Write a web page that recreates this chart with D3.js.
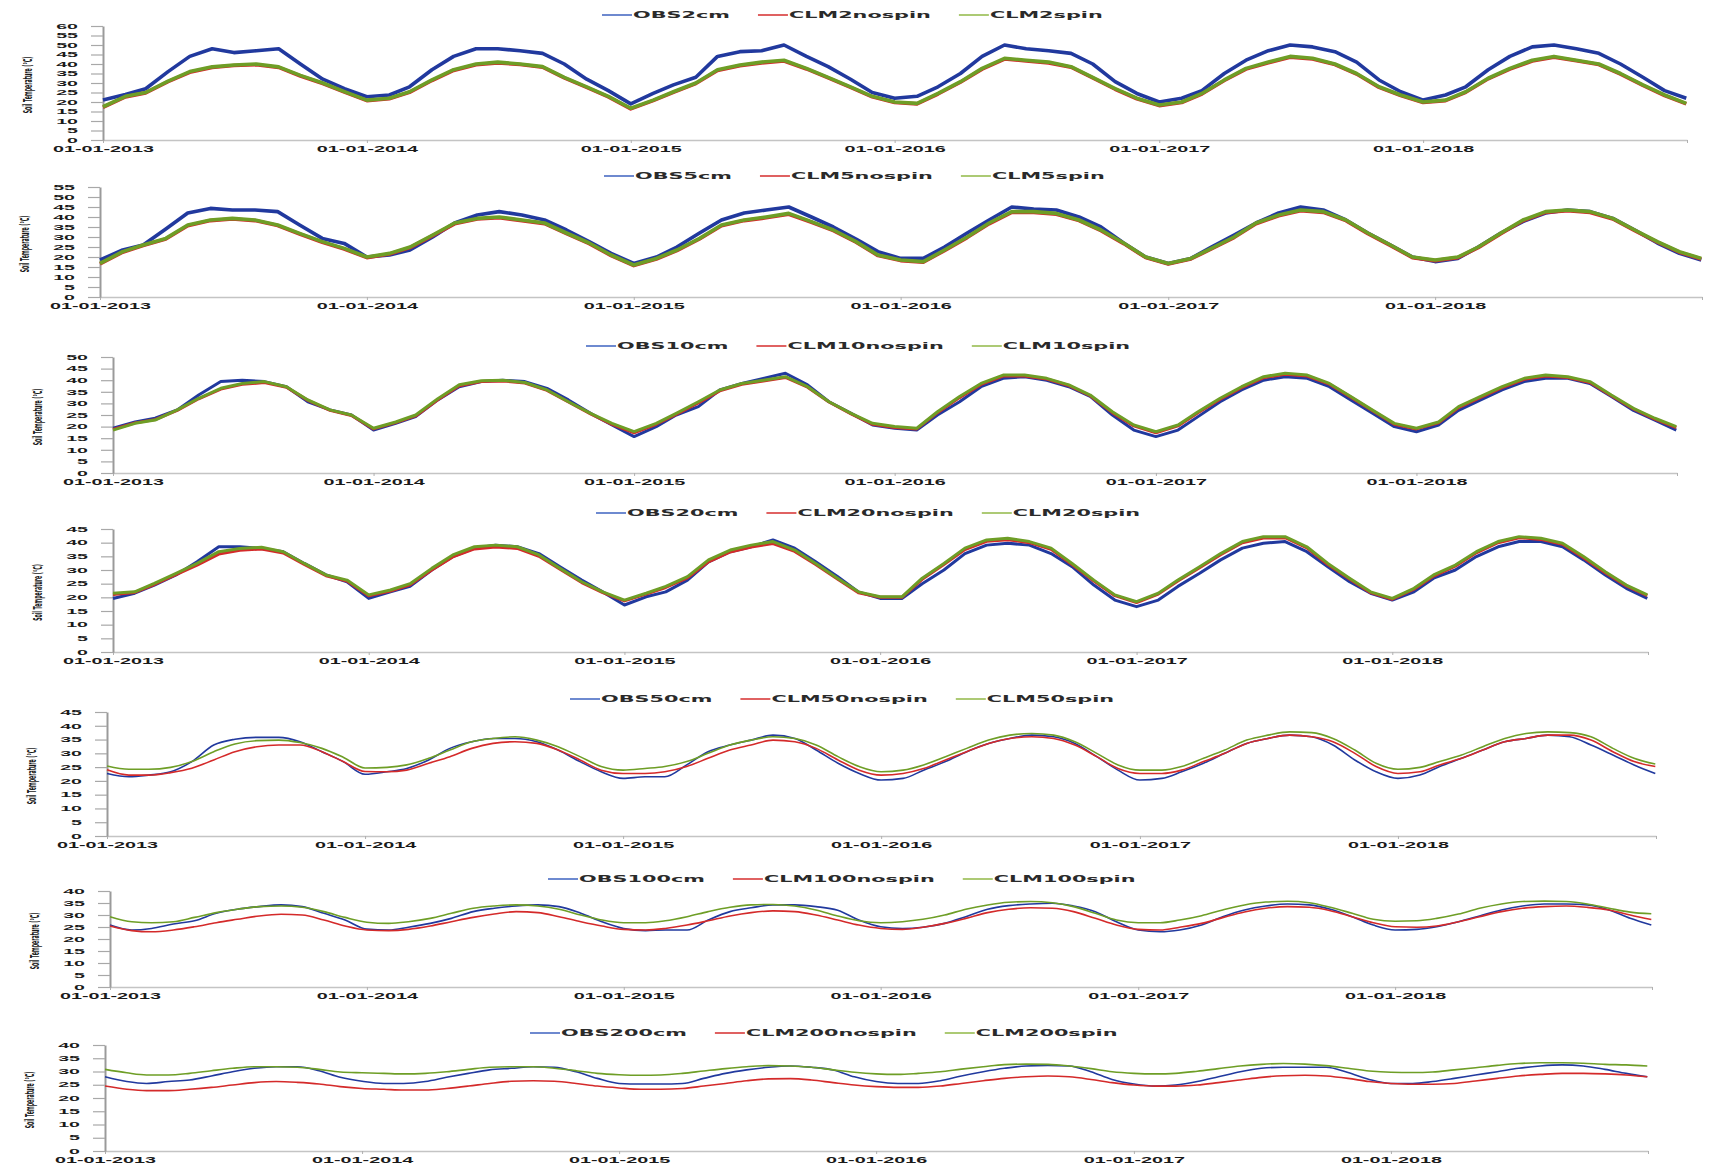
<!DOCTYPE html>
<html>
<head>
<meta charset="utf-8">
<script src="https://cdn.jsdelivr.net/npm/d3@7/dist/d3.min.js"></script>
<style>
  body { margin: 0; background: #fff; }
  svg { display: block; }
</style>
</head>
<body>
<svg id="svg"></svg>
<script>
// monthly samples (1st of each month, 2013-01 .. 2018-12) plus last day of record
const dates = d3.timeMonth.range(new Date(2013, 0, 1), new Date(2019, 0, 1)).concat([new Date(2018, 11, 31)]);
const yearTicks = [2013, 2014, 2015, 2016, 2017, 2018, 2019].map(y => new Date(y, 0, 1));
const tickLabels = ["01-01-2013", "01-01-2014", "01-01-2015", "01-01-2016", "01-01-2017", "01-01-2018", ""];
const depths = ["2", "5", "10", "20", "50", "100", "200"];
const yMaxes = [60, 55, 50, 45, 45, 40, 40];
const yLabel = "Soil Temperature (°C)";

const obs2 = [21, 24, 27, 36, 44, 48, 46, 47, 48, 40, 32, 27,
  22.8, 23.7, 28, 37, 44, 48, 48, 47, 45.6, 40, 32, 26,
  19, 24.5, 29, 33, 44, 46.5, 47, 50, 44, 38.6, 32, 25,
  22, 23, 28, 35, 44, 50, 48, 47, 45.6, 40, 30.7, 24.5,
  20, 22, 26, 35, 42, 47, 50, 49, 46.5, 41, 31.6, 25.4,
  21, 23.7, 28, 37, 44, 49, 50, 48, 45.6, 40, 33, 26, 22];
const nospin2 = [17.2, 22.7, 24.8, 30.7, 35.6, 38.2, 39.2, 39.6, 38.2, 33.7, 29.7, 25.2,
  20.7, 21.7, 25.1, 31.3, 36.6, 39.6, 40.6, 39.7, 38.3, 32.7, 27.7, 22.7,
  16.4, 20.7, 25.1, 29.7, 36.6, 39.1, 40.6, 41.6, 37.4, 32.7, 27.7, 22.7,
  19.7, 19, 24.2, 30.4, 37.3, 42.6, 41.6, 40.6, 38.3, 32.7, 26.7, 21.7,
  18.1, 19.7, 24.2, 31.3, 37.3, 40.6, 43.6, 42.6, 39.7, 34.7, 27.7, 23.4,
  19.7, 20.7, 25.1, 32.2, 37.3, 41.6, 43.6, 41.7, 39.7, 34.7, 28.7, 23.4, 19];
const spin2 = [17.5, 23, 25, 31, 36, 38.5, 39.5, 40, 38.5, 34, 30, 25.5,
  21, 22, 25.4, 31.6, 37, 40, 41, 40, 38.6, 33, 28, 23,
  16.7, 21, 25.4, 30, 37, 39.5, 41, 42, 37.7, 33, 28, 23,
  20, 19.3, 24.5, 30.7, 37.7, 43, 42, 41, 38.6, 33, 27, 22,
  18.4, 20, 24.5, 31.6, 37.7, 41, 44, 43, 40, 35, 28, 23.7,
  20, 21, 25.4, 32.5, 37.7, 42, 44, 42, 40, 35, 29, 23.7, 19.3];

const obs5 = [18.5, 23.5, 26, 34, 42, 44.3, 43.5, 43.5, 42.7, 36, 29.3, 26.8,
  20, 21, 23.5, 30, 37, 41, 42.7, 41, 38.5, 33.5, 27.7, 21.8,
  16.8, 20, 25, 32, 38.5, 42, 43.5, 45, 40, 35, 29, 22.7,
  19.3, 19.3, 25, 32, 38.5, 45, 44, 43.5, 40, 35, 27, 20,
  16.8, 19.3, 25, 31, 37, 42, 45, 43.5, 38.5, 32, 26, 20,
  17.7, 19.3, 25, 32, 37.7, 42, 43.5, 42.7, 39.3, 33.5, 27, 21.8, 18.5];
const nospin5 = [16.5, 22.4, 25.7, 29, 35.6, 38.2, 39, 38.2, 35.7, 31.5, 27.4, 24,
  19.7, 21.5, 24.7, 30.7, 36.6, 39, 39.6, 38.2, 36.7, 31.7, 26.7, 20.7,
  15.7, 19, 23.2, 29, 35.6, 38.2, 39.6, 41.4, 37.4, 33.2, 27.4, 20.7,
  18.2, 17.4, 23.2, 29.7, 36.6, 42.3, 42.3, 41.4, 38.2, 33.2, 26.7, 19.7,
  16.5, 19, 24, 29.7, 36.6, 40.6, 43.1, 42.3, 38.2, 31.7, 25.7, 19.7,
  18.2, 19.7, 24.7, 31.7, 38.1, 42.3, 43.1, 42.3, 39, 33.2, 27.4, 22.4, 19];
const spin5 = [16.8, 22.7, 26, 29.3, 36, 38.5, 39.3, 38.5, 36, 31.8, 27.7, 24.3,
  20, 21.8, 25, 31, 37, 39.3, 40, 38.5, 37, 32, 27, 21,
  16, 19.3, 23.5, 29.3, 36, 38.5, 40, 41.8, 37.7, 33.5, 27.7, 21,
  18.5, 17.7, 23.5, 30, 37, 42.7, 42.7, 41.8, 38.5, 33.5, 27, 20,
  16.8, 19.3, 24.3, 30, 37, 41, 43.5, 42.7, 38.5, 32, 26, 20,
  18.5, 20, 25, 32, 38.5, 42.7, 43.5, 42.7, 39.3, 33.5, 27.7, 22.7, 19.3];

const obs10 = [19.3, 22, 23.6, 27.2, 33.6, 39.4, 40, 39.4, 37.2, 30.7, 27.2, 25,
  18.5, 21.4, 24.3, 31.5, 37.2, 39.4, 40, 39.4, 36.5, 31.5, 25.7, 20.7,
  15.7, 20, 25, 28.6, 35.8, 38.6, 40.8, 43, 38, 30.7, 25.7, 20.7,
  19.3, 18.5, 25, 30.7, 37.2, 40.8, 41.5, 40, 37.2, 33, 25, 18.5,
  15.7, 18.5, 24.3, 30.7, 35.8, 40, 41.5, 40.8, 37.2, 31.5, 25.7, 20,
  17.8, 20.7, 27, 31.5, 35.8, 39.4, 40.8, 40.8, 38.6, 33, 27, 22.8, 18.5];
const nospin10 = [18.8, 21.6, 23, 27, 32, 36.2, 38.2, 39, 37, 31.3, 27, 24.8,
  19, 21.7, 24.6, 31.6, 37.6, 39.4, 39.7, 38.8, 35.6, 30.6, 25.5, 21,
  17.3, 21, 25.3, 30.2, 35.4, 38.2, 39.7, 41.2, 37, 30.6, 25.5, 21,
  19.6, 19, 26, 32.5, 38.2, 41.8, 41.8, 40.5, 37.7, 33.3, 26, 20.3,
  17.3, 20.3, 26, 31.8, 36.8, 41.1, 42.6, 41.8, 38.3, 32.7, 26.7, 21,
  19, 21.6, 28.2, 32.6, 36.8, 40.4, 41.8, 41.2, 39, 33.3, 27.6, 23.2, 19.6];
const spin10 = [18.5, 21.4, 22.8, 27.2, 32.2, 36.5, 38.6, 39.4, 37.2, 31.5, 27.2, 25,
  19.3, 22, 25, 32, 38, 39.8, 40, 39, 35.8, 30.7, 25.7, 21.4,
  17.8, 21.4, 25.7, 30.7, 35.8, 38.6, 40, 41.5, 37.2, 30.7, 25.7, 21.4,
  20, 19.3, 26.4, 33, 38.6, 42.2, 42.2, 40.8, 38, 33.6, 26.4, 20.7,
  17.8, 20.7, 26.4, 32.2, 37.2, 41.5, 43, 42.2, 38.6, 33, 27, 21.4,
  19.3, 22, 28.6, 33, 37.2, 40.8, 42.2, 41.5, 39.4, 33.6, 27.9, 23.6, 20];

const obs20 = [19.6, 21.5, 24.5, 28.2, 33, 38.5, 38.5, 37.9, 36.7, 32.4, 28.2, 25.7,
  19.6, 22, 24, 30, 34.9, 38, 39.1, 38.5, 36, 31.2, 26.3, 22,
  17.2, 20.2, 22, 26.3, 33, 36.7, 38.5, 41, 38, 33, 27.6, 22,
  19.6, 19.6, 25, 30, 36, 39.1, 39.8, 39.1, 36, 31.2, 24.5, 19,
  16.6, 19, 24, 28.8, 33.7, 38, 39.8, 40.4, 36.7, 31.2, 25.7, 21.5,
  19, 22, 27, 30, 34.9, 38.5, 40.4, 40.4, 38.5, 33.7, 28.2, 23.3, 19.6];
const nospin20 = [21, 21.8, 24.7, 28.3, 31.8, 35.8, 37.2, 37.7, 36.2, 32, 27.9, 26,
  20.6, 22.3, 24.6, 30, 34.8, 37.7, 38.4, 37.9, 35, 30.3, 25.4, 21.7,
  18.7, 21.2, 23.6, 27.1, 33, 36.6, 38.4, 39.7, 36.8, 32, 26.7, 21.7,
  20, 20, 26.6, 32, 37.5, 40.5, 41.1, 40, 37.6, 32, 26, 20.6,
  18.1, 21.2, 26, 30.8, 35.6, 40, 41.7, 41.8, 38.1, 32, 26.7, 21.7,
  19.3, 23, 27.8, 31.4, 36.3, 40, 41.8, 41.2, 39.4, 34.5, 29, 24.2, 20.6];
const spin20 = [21.5, 22, 25.1, 28.8, 32.4, 36.7, 37.9, 38.3, 36.7, 32.4, 28.2, 26.3,
  20.9, 22.7, 25, 30.6, 35.5, 38.5, 39.1, 38.5, 35.5, 30.6, 25.7, 22,
  19, 21.5, 24, 27.6, 33.7, 37.3, 39.1, 40.4, 37.3, 32.4, 27, 22,
  20.2, 20.2, 27, 32.4, 38, 41, 41.6, 40.4, 38, 32.4, 26.3, 20.9,
  18.4, 21.5, 26.3, 31.2, 36, 40.4, 42.2, 42.2, 38.5, 32.4, 27, 22,
  19.6, 23.3, 28.2, 31.8, 36.7, 40.4, 42.2, 41.6, 39.8, 34.9, 29.4, 24.5, 20.9];

const obs50 = [22.7, 21.5, 22.1, 23.3, 27, 33, 35.1, 35.8, 35.8, 34.2, 30.6, 27,
  22.4, 23.3, 24.5, 27.6, 31.8, 34.2, 35.4, 35.4, 34.2, 31.2, 27, 23.3,
  20.9, 21.5, 21.5, 25.8, 30.6, 33, 34.8, 36.6, 35.4, 31.2, 26.4, 22.7,
  20.3, 20.9, 23.9, 27, 30.6, 33.6, 35.4, 36.6, 36, 33.6, 28.8, 23.9,
  20.3, 20.9, 23.3, 26.4, 30, 33.6, 35.4, 36.6, 36, 33, 27.6, 23.3,
  20.9, 22.1, 25.2, 28.2, 31.2, 34.2, 35.4, 36.6, 36, 33, 29.4, 25.8, 22.7];
const nospin50 = [24, 22.1, 22.1, 23, 24.6, 27.6, 30.6, 32.4, 33, 33, 30.6, 27,
  23.4, 23.3, 23.9, 26.4, 28.8, 31.8, 33.6, 34.2, 33.6, 31.2, 27.6, 23.9,
  22.7, 22.7, 23.3, 25.2, 28.2, 31.2, 33, 34.8, 34.2, 31.8, 27.6, 23.9,
  22.1, 22.7, 24.5, 27.6, 30.6, 33.6, 35.4, 36, 35.4, 33, 28.8, 24.5,
  22.7, 22.7, 23.9, 27, 30, 33.6, 35.4, 36.6, 36, 34.2, 30, 25.2,
  22.7, 23.3, 25.8, 28.2, 31.2, 34.2, 35.4, 36.6, 36.6, 34.8, 30.6, 27, 25.2];
const spin50 = [25.4, 24.2, 24.2, 24.9, 27, 30.6, 33.4, 34.6, 34.8, 33.9, 31.8, 28.6,
  24.7, 24.9, 25.8, 28.2, 31.2, 34.2, 35.4, 36, 34.8, 32.4, 28.8, 25.2,
  23.9, 24.5, 25.2, 27, 30, 33, 34.8, 36, 35.4, 33, 28.8, 25.2,
  23.3, 23.9, 25.8, 28.8, 31.8, 34.8, 36.6, 37.2, 36.6, 34.2, 30, 25.8,
  23.9, 23.9, 25.2, 28.2, 31.2, 34.8, 36.6, 37.8, 37.5, 35.4, 31.2, 26.4,
  24.2, 24.9, 27, 29.4, 32.4, 35.4, 37.2, 37.8, 37.5, 36, 31.8, 28.2, 26.1];

const obs100 = [25.8, 23.75, 24.4, 26.25, 27.6, 30.7, 32.4, 33.5, 34.2, 33.5, 30.7, 27.9,
  24.1, 23.75, 24.9, 26.5, 28.6, 31.4, 32.8, 33.75, 34.2, 33.5, 30.7, 27.2,
  24.4, 23.5, 23.75, 23.75, 27.9, 31.4, 33, 34.2, 34.2, 33.5, 32, 27.9,
  25.1, 24.4, 24.9, 26.5, 29.3, 32.4, 33.9, 34.6, 34.9, 33.75, 31.4, 27.2,
  23.75, 23, 23.75, 25.8, 29.3, 32.1, 33.75, 34.6, 34.2, 32.4, 29.3, 25.8,
  23.75, 24, 25.1, 27.2, 29.6, 32.1, 33.75, 34.6, 34.6, 34.2, 32.1, 28.6, 25.8];
const nospin100 = [25.4, 23.5, 23, 23.75, 25.1, 26.8, 28.2, 29.6, 30.3, 30, 27.9, 25.4,
  23.75, 23.5, 24, 25.4, 27.2, 29, 30.4, 31.4, 31, 29.3, 27.2, 25.4,
  24, 23.75, 24.4, 25.8, 27.6, 29.6, 31, 31.7, 31.4, 30, 27.9, 25.8,
  24.4, 24, 24.9, 26.5, 28.6, 31, 32.4, 33, 32.8, 31.4, 28.6, 25.8,
  24, 23.75, 24.9, 26.5, 28.9, 31.25, 32.8, 33.5, 33.2, 31.8, 29.3, 26.8,
  25.1, 24.9, 25.4, 27.2, 29.3, 31.4, 32.8, 33.5, 33.75, 33.2, 32.1, 30, 28.1];
const spin100 = [29.3, 27.2, 26.8, 27.2, 29, 31, 32.4, 33.5, 33.75, 33.2, 31.4, 29,
  27, 26.5, 27.2, 28.6, 30.7, 32.8, 33.75, 34.2, 33.75, 32.4, 30, 27.9,
  26.8, 26.8, 27.6, 29.3, 31.4, 33.2, 34.2, 34.4, 33.75, 32.1, 29.6, 27.6,
  26.8, 27.2, 28.2, 30, 32.4, 34.2, 35.3, 35.6, 35.1, 33.5, 30.7, 27.9,
  26.8, 26.8, 27.9, 29.7, 32.1, 34.2, 35.4, 35.7, 35.1, 33.2, 30.7, 28.2,
  27.4, 27.6, 28.6, 30.4, 32.8, 34.6, 35.6, 35.8, 35.6, 34.6, 32.8, 31.2, 30.5];

const obs200 = [28, 26.2, 25.5, 26.2, 26.8, 28.3, 29.9, 31.2, 31.8, 31.8, 30.3, 27.8,
  26.3, 25.5, 25.5, 26.2, 27.8, 29.3, 30.6, 31.2, 31.8, 31.6, 29.9, 27.4,
  25.5, 25.3, 25.3, 25.5, 27.4, 29.3, 30.6, 31.6, 32.1, 31.6, 30.6, 28,
  26.2, 25.5, 25.5, 26.5, 28.3, 29.9, 31.2, 32.1, 32.3, 32.1, 29.9, 27,
  25.3, 24.5, 24.9, 26.2, 28, 29.9, 31.2, 31.6, 31.6, 31.6, 29.6, 27,
  25.5, 25.5, 26.2, 27.4, 28.7, 29.9, 31.2, 32.1, 32.5, 32.1, 30.8, 29.3, 28];
const nospin200 = [24.5, 23.3, 22.8, 22.8, 23.3, 24, 24.9, 25.8, 26.2, 25.9, 25.3, 24.3,
  23.6, 23.3, 23, 23, 23.6, 24.5, 25.5, 26.3, 26.5, 26.3, 25.5, 24.5,
  23.8, 23.3, 23.3, 23.6, 24.5, 25.5, 26.5, 27.2, 27.3, 26.8, 25.8, 24.9,
  24.3, 24, 24, 24.5, 25.5, 26.5, 27.4, 28, 28.3, 28, 27, 25.8,
  24.9, 24.5, 24.5, 24.9, 25.8, 26.8, 27.8, 28.4, 28.6, 28.3, 27.4, 26.2,
  25.5, 25.2, 25.2, 25.5, 26.4, 27.4, 28.3, 28.9, 29.3, 29.3, 29.1, 28.7, 28];
const spin200 = [30.8, 29.5, 28.7, 28.7, 29.3, 30.3, 31.2, 31.8, 31.8, 31.6, 30.8, 29.8,
  29.5, 29.3, 29.1, 29.3, 29.9, 30.8, 31.6, 31.8, 31.8, 31.2, 30.3, 29.3,
  28.8, 28.6, 28.7, 29.3, 30.2, 31.1, 31.8, 32.2, 32.1, 31.6, 30.6, 29.7,
  29.1, 28.9, 29.3, 29.9, 30.9, 31.8, 32.6, 32.8, 32.7, 32.1, 31.1, 29.9,
  29.3, 29.1, 29.3, 30.1, 31.1, 32.1, 32.7, 33, 32.8, 32.2, 31.2, 30.2,
  29.7, 29.6, 29.8, 30.6, 31.4, 32.3, 33, 33.3, 33.3, 33.1, 32.7, 32.5, 32.1];

const obsSeries = [obs2, obs5, obs10, obs20, obs50, obs100, obs200];
const nospinSeries = [nospin2, nospin5, nospin10, nospin20, nospin50, nospin100, nospin200];
const spinSeries = [spin2, spin5, spin10, spin20, spin50, spin100, spin200];

// panel placement on the page (plot left/right, top/bottom, legend start)
const layout = [
  { x0: 103, x1: 1687, top: 26, bottom: 140, legX: 602, legY: 15, sw: 3.6 },
  { x0: 100, x1: 1702, top: 187, bottom: 297, legX: 604, legY: 176, sw: 3.6 },
  { x0: 113, x1: 1677, top: 357, bottom: 473, legX: 586, legY: 346, sw: 3 },
  { x0: 113, x1: 1648, top: 529, bottom: 652, legX: 596, legY: 513, sw: 3 },
  { x0: 107, x1: 1656, top: 712, bottom: 836, legX: 570, legY: 699, sw: 1.6 },
  { x0: 110, x1: 1652, top: 891, bottom: 987, legX: 548, legY: 879, sw: 1.6 },
  { x0: 105, x1: 1648, top: 1045, bottom: 1151, legX: 530, legY: 1033, sw: 1.6 }
];

const colors = { obs: "#21399e", nospin: "#d42a2a", spin: "#6e9e26" };
const width = 1713, height = 1169;
const font = "'DejaVu Sans', sans-serif";

const svg = d3.select("#svg")
  .attr("width", width)
  .attr("height", height)
  .attr("viewBox", [0, 0, width, height])
  .attr("font-family", font);

svg.append("rect").attr("width", width).attr("height", height).attr("fill", "#fff");

depths.forEach((depth, i) => {
  const L = layout[i];
  const g = svg.append("g");

  const x = d3.scaleTime([yearTicks[0], yearTicks[6]], [L.x0, L.x1]);
  const y = d3.scaleLinear([0, yMaxes[i]], [L.bottom, L.top]);

  // x axis
  const xAxis = g.append("g")
    .attr("transform", "translate(0," + L.bottom + ")")
    .call(d3.axisBottom(x)
      .tickValues(yearTicks)
      .tickFormat((d, k) => tickLabels[k])
      .tickSize(3)
      .tickSizeOuter(0));
  xAxis.select(".domain").attr("stroke", "#c4c4c4").attr("stroke-width", 1.6);
  xAxis.selectAll(".tick line").attr("stroke", "#b0b0b0");
  xAxis.selectAll(".tick text")
    .attr("y", 6)
    .attr("fill", "#1a1a1a")
    .attr("font-size", 9)
    .attr("font-weight", "bold")
    .attr("transform", "scale(2.2,1)");

  // y axis
  const yAxis = g.append("g")
    .attr("transform", "translate(" + L.x0 + ",0)")
    .call(d3.axisLeft(y)
      .tickValues(d3.range(0, yMaxes[i] + 1, 5))
      .tickSize(12)
      .tickSizeOuter(0));
  yAxis.select(".domain").attr("stroke", "#9a9a9a").attr("stroke-width", 2);
  yAxis.selectAll(".tick line").attr("stroke", "#a8a8a8").attr("stroke-width", 1.2);
  yAxis.selectAll(".tick text")
    .attr("x", -25 / 2.8)
    .attr("fill", "#1a1a1a")
    .attr("font-size", 7)
    .attr("font-weight", "bold")
    .attr("transform", "scale(2.8,1)");

  // rotated axis title, squeezed along its length
  g.append("text")
    .attr("transform", "translate(" + (L.x0 - 76) + "," + ((L.top + L.bottom) / 2 + 2) + ") rotate(-90) scale(0.36,1)")
    .attr("text-anchor", "middle")
    .attr("dy", "0.35em")
    .attr("font-size", 13)
    .attr("font-weight", "bold")
    .attr("fill", "#1a1a1a")
    .text(yLabel);

  // lines
  const curve = i >= 4 ? d3.curveMonotoneX : d3.curveLinear;
  const line = d3.line()
    .x((d, k) => x(dates[k]))
    .y(d => y(d))
    .curve(curve);

  [["obs", obsSeries[i]], ["nospin", nospinSeries[i]], ["spin", spinSeries[i]]].forEach(([key, vals]) => {
    g.append("path")
      .datum(vals)
      .attr("fill", "none")
      .attr("stroke", colors[key])
      .attr("stroke-width", L.sw)
      .attr("stroke-linejoin", "round")
      .attr("d", line);
  });

  // legend
  const names = ["OBS" + depth + "cm", "CLM" + depth + "nospin", "CLM" + depth + "spin"];
  const legColors = ["#4a6cc4", "#d83a3a", "#98bd52"];
  const sx = 2.6;
  let lx = L.legX;
  names.forEach((name, k) => {
    g.append("line")
      .attr("x1", lx).attr("x2", lx + 30)
      .attr("y1", L.legY).attr("y2", L.legY)
      .attr("stroke", legColors[k])
      .attr("stroke-width", 1.6);
    const t = g.append("text")
      .attr("transform", "translate(" + (lx + 31) + "," + L.legY + ") scale(" + sx + ",1)")
      .attr("dy", "0.35em")
      .attr("font-size", 8)
      .attr("font-weight", "bold")
      .attr("fill", "#2a2a2a")
      .text(name);
    lx += 31 + t.node().getComputedTextLength() * sx + 28;
  });
});
</script>
</body>
</html>
